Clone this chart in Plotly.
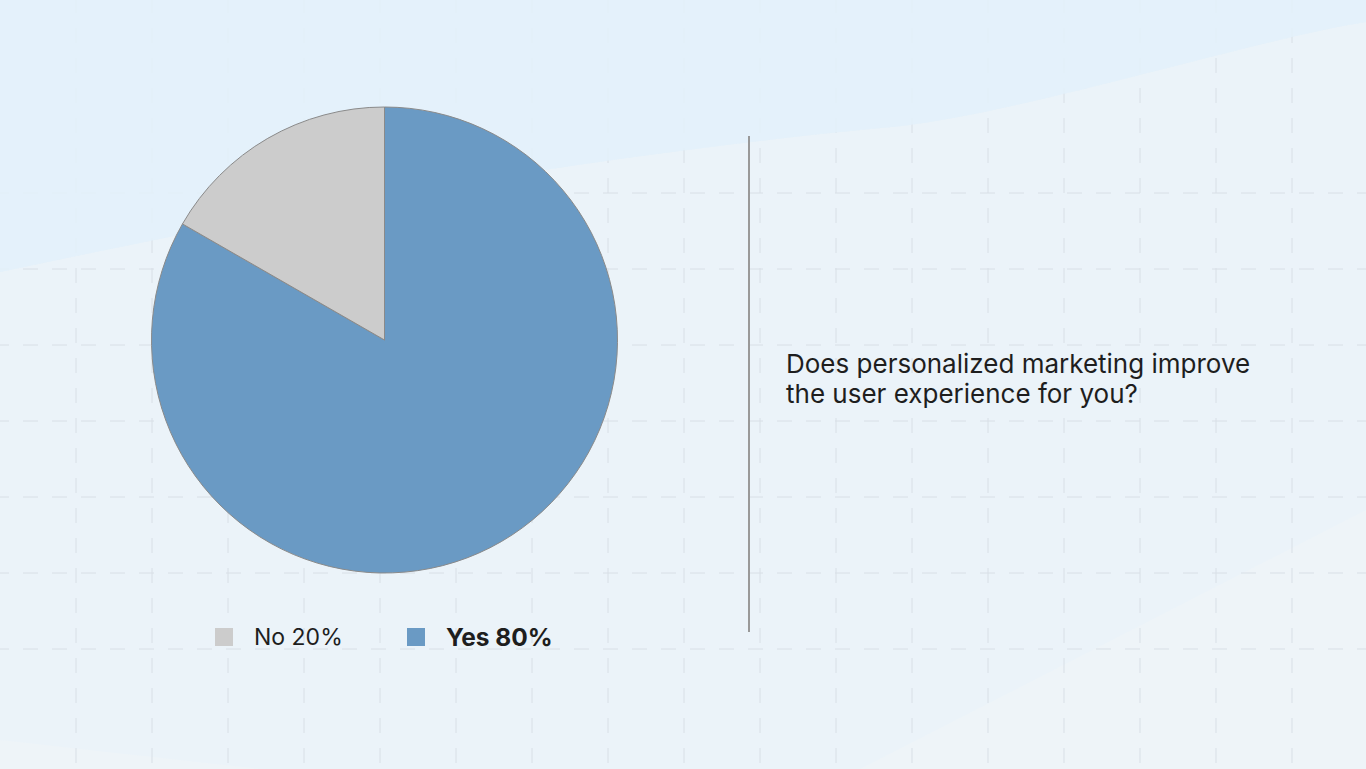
import plotly.graph_objects as go

# ---- data ----
categories = ["Yes", "No"]
slice_values = [83.3, 16.7]          # slice sizes as drawn in the picture
legend_labels = ["No 20%", "Yes 80%"]
legend_categories = ["No", "Yes"]
question_lines = ["Does personalized marketing improve", "the user experience for you?"]

# ---- style ----
W, H = 1366, 769
colors = {"Yes": "#6a9ac4", "No": "#cccccc"}

def px(x):
    return x / W

def py(y):
    return 1 - y / H

fig = go.Figure()

fig.add_trace(go.Pie(
    labels=categories,
    values=slice_values,
    sort=False,
    direction="clockwise",
    rotation=0,
    textinfo="none",
    hoverinfo="label",
    marker=dict(colors=[colors[c] for c in categories],
                line=dict(color="#8a8a8a", width=1)),
    domain=dict(x=[px(151.5), px(617.5)], y=[py(573), py(107)]),
    showlegend=False,
))

band_path = ("M {} {} L {} {} L {} {} C {} {} {} {} {} {} C {} {} {} {} {} {} L {} {} Z").format(
    px(0), py(0), px(W), py(0), px(W), py(22),
    px(1250), py(40), px(1000), py(120), px(880), py(128),
    px(500), py(165), px(200), py(230), px(0), py(272),
    px(0), py(0))

shapes = []
# top bluish band
shapes.append(dict(type="path", xref="paper", yref="paper", layer="below",
                   path=band_path, fillcolor="rgb(228,241,250)", line=dict(width=0)))
# lower-right lighter wedge
shapes.append(dict(
    type="path", xref="paper", yref="paper", layer="below",
    path="M {} {} L {} {} L {} {} L {} {} Z".format(
        px(860), py(769), px(1366), py(510), px(1366), py(769), px(860), py(769)),
    fillcolor="rgb(238,244,248)", line=dict(width=0),
))
# lower-left lighter wedge
shapes.append(dict(
    type="path", xref="paper", yref="paper", layer="below",
    path="M {} {} L {} {} L {} {} Z".format(
        px(0), py(769), px(0), py(740), px(260), py(769)),
    fillcolor="rgb(238,244,248)", line=dict(width=0),
))

grid_col = "rgb(216,223,230)"
# vertical grid lines
for k in range(1, 18):
    x = 76 * k
    shapes.append(dict(type="line", xref="paper", yref="paper", layer="below",
                       x0=px(x), x1=px(x), y0=py(-2), y1=py(769),
                       line=dict(color=grid_col, width=1, dash="15px,15px")))
# horizontal grid lines
for k in range(2, 9):
    y = 41 + 76 * k
    shapes.append(dict(type="line", xref="paper", yref="paper", layer="below",
                       x0=px(-6), x1=px(W), y0=py(y), y1=py(y),
                       line=dict(color=grid_col, width=1, dash="15px,14px")))
# fade grid in the top band
shapes.append(dict(type="path", xref="paper", yref="paper", layer="below",
                   path=band_path, fillcolor="rgba(228,241,250,0.85)", line=dict(width=0)))

# separator line
shapes.append(dict(type="line", xref="paper", yref="paper",
                   x0=px(749), x1=px(749), y0=py(136), y1=py(632),
                   line=dict(color="#999999", width=2)))

# legend squares + labels
legend_x = [215, 407]
legend_sizes = [23, 24.5]
annotations = []
for lab, cat, lx, fs in zip(legend_labels, legend_categories, legend_x, legend_sizes):
    shapes.append(dict(type="rect", xref="paper", yref="paper",
                       x0=px(lx), x1=px(lx + 18), y0=py(646), y1=py(628),
                       fillcolor=colors[cat], line=dict(width=0)))
    txt = "<b>" + lab + "</b>" if cat == "Yes" else lab
    annotations.append(dict(xref="paper", yref="paper", x=px(lx + 37), y=py(637),
                            xanchor="left", yanchor="middle", showarrow=False,
                            text=txt, font=dict(family="Inter", size=fs, color="#1e1e1e")))

# question text, one annotation per line
for i, line in enumerate(question_lines):
    annotations.append(dict(xref="paper", yref="paper", x=px(784), y=py(364 + 29 * i),
                            xanchor="left", yanchor="middle", showarrow=False, align="left",
                            text=line,
                            font=dict(family="Inter", size=26, color="#1e1e1e")))

fig.update_layout(
    width=W, height=H,
    margin=dict(l=0, r=0, t=0, b=0),
    paper_bgcolor="rgb(235,243,249)",
    plot_bgcolor="rgba(0,0,0,0)",
    shapes=shapes,
    annotations=annotations,
    showlegend=False,
)

fig.write_html("out.html")
